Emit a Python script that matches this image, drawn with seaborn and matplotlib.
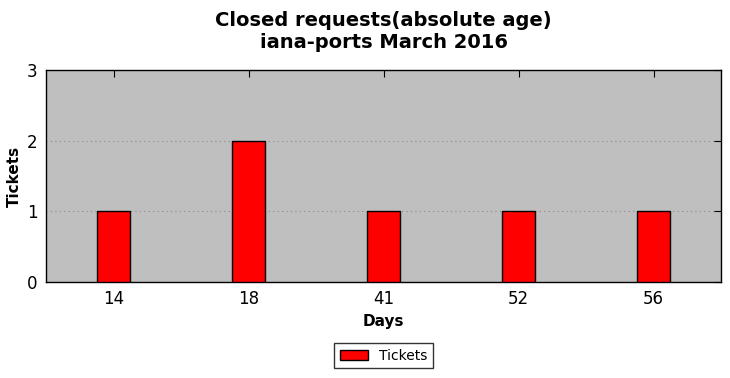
import matplotlib
matplotlib.use("Agg")
import matplotlib.pyplot as plt
import seaborn as sns
import pandas as pd

days = ["14", "18", "41", "52", "56"]
tickets = [1, 2, 1, 1, 1]

df = pd.DataFrame({"Days": days, "Tickets": tickets})

sns.set_style("white")
plt.rcParams['font.family'] = ['DejaVu Sans']
plt.rcParams.update({"text.color": "black", "axes.labelcolor": "black",
                     "xtick.color": "black", "ytick.color": "black"})

fig = plt.figure(figsize=(7.3, 3.78), dpi=100)
ax = fig.add_axes([46/730, 1-282/378, (721-46)/730, (282-70)/378])
ax.set_facecolor("#bfbfbf")

sns.barplot(data=df, x="Days", y="Tickets", color="red", width=0.25,
            edgecolor="black", linewidth=1, saturation=1, label="Tickets", ax=ax, zorder=3)

ax.set_xlim(-0.5, 4.5)
ax.set_ylim(0, 3)
ax.set_yticks([0, 1, 2, 3])
ax.yaxis.grid(True, linestyle=(0, (1, 3)), color="#888888", linewidth=0.8, zorder=0)
ax.set_axisbelow(True)
for s in ax.spines.values():
    s.set_color("black")
    s.set_linewidth(1)
    s.set_visible(True)
ax.tick_params(direction="in", length=5, width=0.8, top=True, right=True, labelsize=12, pad=6,
               colors="black")
ax.set_xlabel("Days", fontsize=11, fontweight="bold", color="black")
ax.set_ylabel("Tickets", fontsize=11, fontweight="bold", color="black")
ax.set_title("Closed requests(absolute age)\niana-ports March 2016", fontsize=14,
             fontweight="bold", pad=16, color="black")

leg = ax.legend(loc="upper center", bbox_to_anchor=(0.5, -0.255), frameon=True, fancybox=False,
                edgecolor="black", fontsize=10, handlelength=2, borderpad=0.4)
leg.get_frame().set_linewidth(1)
for t in leg.get_texts():
    t.set_color("black")

fig.savefig("out.png", dpi=100)
